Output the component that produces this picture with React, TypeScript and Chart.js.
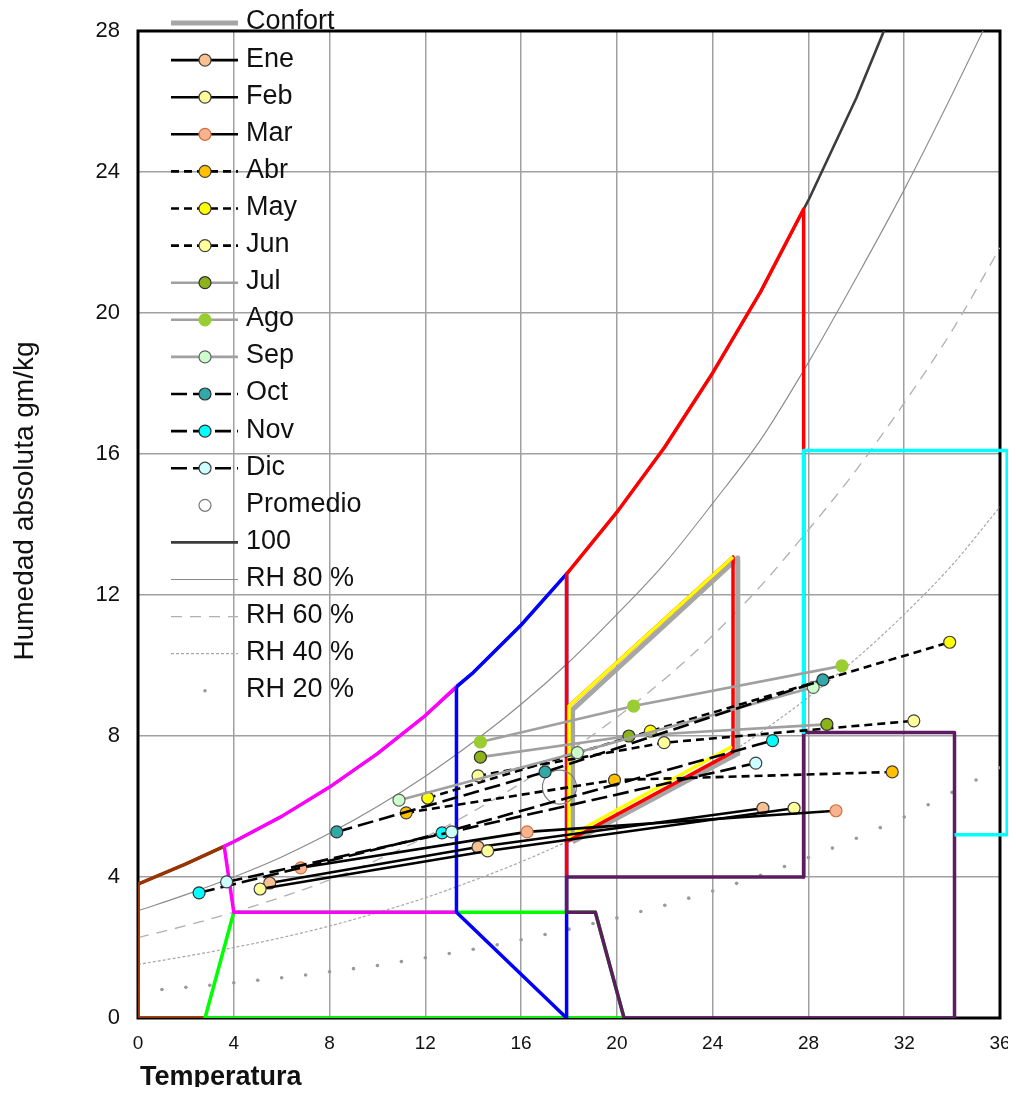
import React, { useEffect, useRef } from 'react';
import { Chart, registerables } from 'chart.js';

Chart.register(...registerables);

const FONT = "'Liberation Sans', Arial, Helvetica, sans-serif";

// ---- axis ticks ----
const xTicks = [0, 4, 8, 12, 16, 20, 24, 28, 32, 36];
const yTicks = [0, 4, 8, 12, 16, 20, 24, 28];

// ---- humidity curves ----
const curveTemps = [0, 2, 4, 6, 8, 10, 12, 14, 16, 18, 20, 22, 24, 26, 28, 30, 32, 34, 36];
const rh100 = [3.8, 4.37, 5.0, 5.72, 6.55, 7.5, 8.58, 9.8, 11.15, 12.68, 14.35, 16.2, 18.3, 20.6, 23.2, 26.1, 29.4, 33.1, 37.3];
const rh80 = [3.04, 3.5, 4.0, 4.57, 5.24, 6.0, 6.86, 7.83, 8.9, 10.1, 11.45, 12.9, 14.6, 16.4, 18.6, 21.0, 23.5, 26.2, 29.0];
const rh60 = [2.28, 2.62, 3.0, 3.43, 3.92, 4.49, 5.13, 5.86, 6.66, 7.56, 8.53, 9.62, 10.85, 12.25, 13.85, 15.55, 17.45, 19.5, 21.85];
const rh40 = [1.52, 1.75, 2.0, 2.28, 2.61, 2.99, 3.41, 3.9, 4.43, 5.03, 5.67, 6.39, 7.2, 8.1, 9.1, 10.2, 11.45, 12.85, 14.5];
const rh20Temps = [0, 1, 2, 3, 4, 5, 6, 7, 8, 9, 10, 11, 12, 13, 14, 15, 16, 17, 18, 19, 20, 21, 22, 23, 24, 25, 26, 27, 28, 29, 30, 31, 32, 33, 34, 35, 36];
const rh20 = [0.76, 0.81, 0.87, 0.93, 1.0, 1.07, 1.14, 1.22, 1.31, 1.4, 1.49, 1.6, 1.71, 1.83, 1.95, 2.08, 2.22, 2.37, 2.52, 2.68, 2.84, 3.02, 3.2, 3.4, 3.6, 3.82, 4.05, 4.3, 4.55, 4.82, 5.1, 5.4, 5.7, 6.05, 6.4, 6.75, 7.1];

// ---- zones ----
const brownT = [2.8, 0, 0, 2, 3.6];
const brownH = [0, 0, 3.8, 4.37, 4.87];
const greenT = [4.0, 2.8, 20.3, 19.1, 4.0];
const greenH = [3.0, 0, 0, 3.0, 3.0];
const magentaT = [13.3, 4.0, 3.6, 4, 6, 8, 10, 12, 13.3];
const magentaH = [3.0, 3.0, 4.87, 5.0, 5.72, 6.55, 7.5, 8.58, 9.4];
const blueT = [13.3, 14, 16, 17.9, 17.9, 13.3, 13.3];
const blueH = [9.4, 9.8, 11.15, 12.6, 0, 3.0, 9.4];
const redT = [17.9, 17.9, 18, 20, 22, 24, 26, 27.8, 27.8];
const redH = [4.0, 12.6, 12.68, 14.35, 16.2, 18.3, 20.6, 22.95, 4.0];
const purpleT = [17.9, 19.1, 20.3, 34.1, 34.1, 27.8, 27.8, 17.9, 17.9];
const purpleH = [3.0, 3.0, 0, 0, 8.1, 8.1, 4.0, 4.0, 3.0];
const cyanT = [34.1, 36.3, 36.3, 27.8, 27.8];
const cyanH = [5.2, 5.2, 16.1, 16.1, 8.1];

// ---- comfort zone ----
const confortT = [18.15, 18.15, 25.05, 25.05, 18.15];
const confortH = [5.0, 8.75, 13.05, 7.5, 5.0];
const redComfT = [18.0, 24.85, 24.85, 17.9];
const redComfH = [8.85, 13.08, 7.55, 5.0];
const yellowT = [24.8, 18.0, 18.0, 24.85];
const yellowH = [7.7, 5.15, 8.85, 13.08];

// ---- monthly data (temperature, absolute humidity) ----
const months = ['Ene', 'Feb', 'Mar', 'Abr', 'May', 'Jun', 'Jul', 'Ago', 'Sep', 'Oct', 'Nov', 'Dic'];
const eneT = [5.5, 14.2, 26.1];
const eneH = [3.83, 4.85, 5.95];
const febT = [5.1, 14.6, 27.4];
const febH = [3.66, 4.74, 5.95];
const marT = [6.8, 16.25, 29.15];
const marH = [4.26, 5.28, 5.88];
const abrT = [11.2, 19.9, 31.5];
const abrH = [5.82, 6.75, 6.98];
const mayT = [12.1, 21.4, 33.9];
const mayH = [6.24, 8.14, 10.66];
const junT = [14.2, 21.97, 32.4];
const junH = [6.87, 7.81, 8.43];
const julT = [14.3, 20.5, 28.77];
const julH = [7.4, 8.0, 8.33];
const agoT = [14.3, 20.7, 29.4];
const agoH = [7.83, 8.85, 9.99];
const sepT = [10.9, 18.35, 28.2];
const sepH = [6.18, 7.53, 9.38];
const octT = [8.3, 17.0, 28.6];
const octH = [5.28, 6.98, 9.59];
const novT = [2.55, 12.7, 26.5];
const novH = [3.55, 5.25, 7.87];
const dicT = [3.7, 13.1, 25.8];
const dicH = [3.86, 5.28, 7.23];
const promedioT = [17.6];
const promedioH = [6.55];

const monthT = [eneT, febT, marT, abrT, mayT, junT, julT, agoT, sepT, octT, novT, dicT];
const monthH = [eneH, febH, marH, abrH, mayH, junH, julH, agoH, sepH, octH, novH, dicH];
const monthFill = ['#FAC090', '#FFFF99', '#F9B391', '#FFC000', '#FFFF00', '#FFFF99', '#8DB31A', '#9ACD32', '#CCFFCC', '#31A9A9', '#00FFFF', '#CCFFFF'];
const monthStroke = ['#404040', '#404040', '#D2703C', '#404040', '#404040', '#404040', '#303030', '#9ACD32', '#606060', '#303030', '#303030', '#404040'];
const monthLine = ['#000', '#000', '#000', '#000', '#000', '#000', '#A0A0A0', '#A0A0A0', '#A0A0A0', '#000', '#000', '#000'];
const monthDash = [[], [], [], [8, 5], [8, 5], [8, 5], [], [], [], [16, 6], [16, 6], [16, 6]];

const legendOrder = ['Confort', ...months, 'Promedio', '100', 'RH 80 %', 'RH 60 %', 'RH 40 %', 'RH 20 %'];

const pts = (xs: number[], ys: number[]) => xs.map((x, i) => ({ x, y: ys[i] }));

function lineDs(label: string, xs: number[], ys: number[], color: string, width: number, order: number, extra: any = {}) {
  return {
    label,
    data: pts(xs, ys),
    showLine: true,
    borderColor: color,
    backgroundColor: color,
    borderWidth: width,
    pointRadius: 0,
    tension: 0,
    fill: false,
    order,
    borderJoinStyle: 'round',
    ...extra,
  };
}

const legendPlugin = {
  id: 'customLegendAndFrame',
  beforeDatasetsDraw(chart: any) {
    const ctx = chart.ctx;
    const dsets = chart.data.datasets;
    ctx.save();
    legendOrder.forEach((lab, i) => {
      const ds = dsets.find((d: any) => d.label === lab);
      if (!ds) return;
      const y = 15 + i * 37.1;
      const x0 = 163, x1 = 230, xm = 197;
      if (ds.showLine !== false) {
        ctx.save();
        ctx.strokeStyle = ds.borderColor;
        ctx.lineWidth = ds.borderWidth;
        ctx.setLineDash(ds.borderDash || []);
        ctx.lineCap = 'butt';
        ctx.beginPath();
        ctx.moveTo(x0, y);
        ctx.lineTo(x1, y);
        ctx.stroke();
        ctx.restore();
      }
      if (ds.pointRadius > 0) {
        const r = Math.min(ds.pointRadius, 6);
        ctx.save();
        ctx.setLineDash([]);
        ctx.beginPath();
        ctx.arc(xm, y, r, 0, Math.PI * 2);
        ctx.fillStyle = ds.pointBackgroundColor || ds.backgroundColor;
        ctx.fill();
        if ((ds.pointBorderWidth ?? 1) > 0) {
          ctx.lineWidth = ds.pointBorderWidth ?? 1;
          ctx.strokeStyle = ds.pointBorderColor || ds.borderColor;
          ctx.stroke();
        }
        ctx.restore();
      }
      ctx.fillStyle = '#111';
      ctx.font = `27px ${FONT}`;
      ctx.textBaseline = 'middle';
      ctx.textAlign = 'left';
      ctx.fillText(lab, 238, y - 1);
    });
    const a = chart.chartArea;
    ctx.strokeStyle = '#000';
    ctx.lineWidth = 3;
    ctx.setLineDash([]);
    ctx.strokeRect(a.left, a.top, a.right - a.left, a.bottom - a.top);
    // axis titles
    ctx.fillStyle = '#111';
    ctx.font = `bold 27px ${FONT}`;
    ctx.textAlign = 'left';
    ctx.textBaseline = 'alphabetic';
    ctx.fillText('Temperatura', 132, 1077);
    ctx.save();
    ctx.translate(25, 493);
    ctx.rotate(-Math.PI / 2);
    ctx.font = `28px ${FONT}`;
    ctx.textAlign = 'center';
    ctx.fillText('Humedad absoluta gm/kg', 0, 0);
    ctx.restore();
    ctx.restore();
  },
};

const noPad = (s: any) => {
  s.paddingTop = 0;
  s.paddingBottom = 0;
  s.paddingLeft = 0;
  s.paddingRight = 0;
};

export default function App() {
  const ref = useRef<HTMLCanvasElement | null>(null);
  useEffect(() => {
    if (!ref.current) return;
    const datasets: any[] = [];
    datasets.push({
      label: 'RH 20 %', data: pts(rh20Temps, rh20), showLine: false, pointRadius: 1.8,
      pointBackgroundColor: '#9a9a9a', pointBorderColor: '#9a9a9a', pointBorderWidth: 0,
      backgroundColor: '#9a9a9a', borderColor: '#9a9a9a', borderWidth: 0, order: 100,
    });
    datasets.push(lineDs('RH 40 %', curveTemps, rh40, '#a8a8a8', 1.2, 99, { borderDash: [3, 2], cubicInterpolationMode: 'monotone' }));
    datasets.push(lineDs('RH 60 %', curveTemps, rh60, '#b0b0b0', 1.3, 98, { borderDash: [11, 8], cubicInterpolationMode: 'monotone' }));
    datasets.push(lineDs('RH 80 %', curveTemps, rh80, '#8a8a8a', 1.1, 97, { cubicInterpolationMode: 'monotone' }));
    datasets.push(lineDs('100', curveTemps, rh100, '#3c3c3c', 2.6, 96));
    datasets.push(lineDs('zBrown', brownT, brownH, '#993300', 3.5, 90));
    datasets.push(lineDs('zGreen', greenT, greenH, '#00FF00', 3.5, 89));
    datasets.push(lineDs('zMagenta', magentaT, magentaH, '#FF00FF', 3.5, 88));
    datasets.push(lineDs('zBlue', blueT, blueH, '#0000FF', 3.5, 87));
    datasets.push(lineDs('zRed', redT, redH, '#FF0000', 3.5, 86));
    datasets.push(lineDs('zPurple', purpleT, purpleH, '#5E1C60', 3.5, 85));
    datasets.push(lineDs('zCyan', cyanT, cyanH, '#00FFFF', 3.5, 84, { clip: 12 }));
    datasets.push(lineDs('Confort', confortT, confortH, '#A6A6A6', 5, 80));
    datasets.push(lineDs('zRedComf', redComfT, redComfH, '#FF0000', 3.5, 79));
    datasets.push(lineDs('zYellow', yellowT, yellowH, '#FFFF00', 3.5, 78));
    datasets.push({
      label: 'Promedio', data: pts(promedioT, promedioH), showLine: false, pointRadius: 17,
      pointBackgroundColor: 'rgba(255,255,255,0)', pointBorderColor: '#7a7a7a', pointBorderWidth: 1.2,
      backgroundColor: '#ffffff', borderColor: '#7a7a7a', borderWidth: 1, order: 70,
    });
    months.forEach((m, i) => {
      datasets.push(lineDs(m, monthT[i], monthH[i], monthLine[i], 2.6, 12 - i, {
        borderDash: monthDash[i],
        pointRadius: 6,
        pointBackgroundColor: monthFill[i],
        pointBorderColor: monthStroke[i],
        pointBorderWidth: 1.2,
      }));
    });

    const tickFont = { family: FONT };
    const chart = new Chart(ref.current, {
      type: 'scatter',
      data: { datasets },
      options: {
        animation: false,
        responsive: false,
        maintainAspectRatio: false,
        events: [],
        layout: { padding: { top: 23, right: 8, left: 0, bottom: 0 }, autoPadding: false },
        plugins: { legend: { display: false }, tooltip: { enabled: false }, title: { display: false } },
        scales: {
          x: {
            type: 'linear', min: 0, max: 36,
            afterBuildTicks: (s: any) => { s.ticks = xTicks.map((v) => ({ value: v })); },
            afterFit: (s: any) => { s.height = 77; noPad(s); },
            grid: { color: '#a0a0a0', lineWidth: 1.5, drawTicks: false },
            border: { display: false },
            ticks: { padding: 14, font: { ...tickFont, size: 19 }, color: '#111', maxRotation: 0, autoSkip: false },
          },
          y: {
            type: 'linear', min: 0, max: 28,
            afterBuildTicks: (s: any) => { s.ticks = yTicks.map((v) => ({ value: v })); },
            afterFit: (s: any) => { s.width = 130; noPad(s); },
            grid: { color: '#a0a0a0', lineWidth: 1.5, drawTicks: false },
            border: { display: false },
            ticks: { padding: 18, font: { ...tickFont, size: 22 }, color: '#111', autoSkip: false },
          },
        },
      },
      plugins: [legendPlugin],
    } as any);
    return () => chart.destroy();
  }, []);

  return (
    <div style={{ width: 1000, height: 1087, marginBottom: -8 }}>
      <canvas ref={ref} width={1000} height={1087} style={{ display: 'block', width: 1000, height: 1087 }} />
    </div>
  );
}
